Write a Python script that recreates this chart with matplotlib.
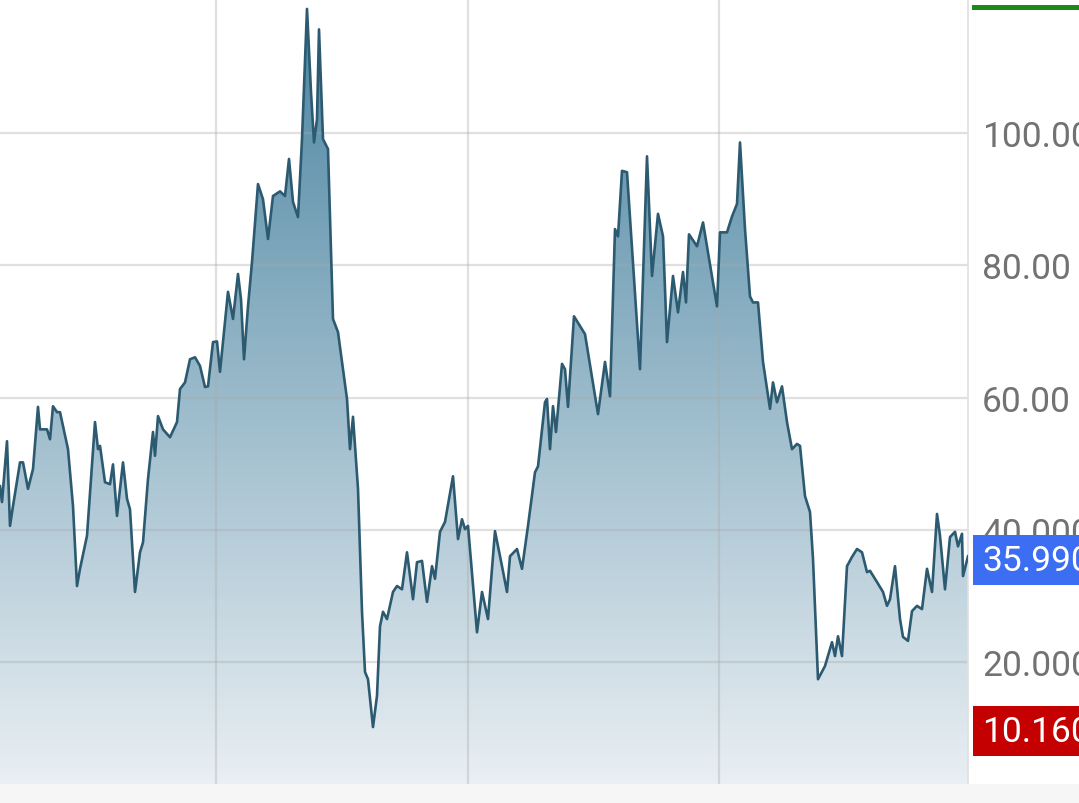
import numpy as np
import matplotlib.pyplot as plt
from matplotlib.patches import Polygon, Rectangle
from matplotlib.transforms import blended_transform_factory

plt.rcParams["font.family"] = ["Roboto", "DejaVu Sans"]

# trading day index and closing price
days = [0, 2, 7, 10, 13, 20, 23, 28, 33, 38, 40, 47, 50, 53, 57, 60, 68, 73, 77, 80,
        87, 95, 98, 100, 105, 110, 113, 117, 123, 127, 130, 135, 140, 143, 148, 153,
        155, 158, 163, 170, 177, 180, 185, 190, 195, 200, 205, 208, 213, 217, 220,
        228, 233, 238, 241, 244, 248, 252, 258, 263, 268, 273, 280, 285, 289, 293,
        298, 302, 307, 311, 314, 317, 319, 323, 328, 333, 338, 343, 347, 350, 353,
        358, 362, 365, 368, 373, 377, 380, 383, 387, 393, 397, 402, 407, 413, 417,
        422, 427, 432, 435, 440, 445, 453, 458, 462, 465, 468, 477, 482, 488, 495,
        502, 507, 510, 517, 522, 528, 535, 538, 545, 547, 550, 553, 556, 562, 565,
        568, 574, 585, 598, 605, 610, 615, 618, 622, 627, 640, 647, 652, 658, 663,
        667, 673, 678, 683, 686, 689, 697, 703, 713, 717, 720, 727, 732, 737, 740,
        745, 750, 753, 758, 763, 770, 773, 777, 782, 787, 792, 797, 800, 805, 810,
        813, 818, 825, 832, 835, 838, 842, 847, 852, 857, 862, 867, 870, 877, 883,
        887, 890, 895, 900, 903, 908, 912, 917, 922, 927, 932, 937, 940, 945, 950,
        955, 958, 962, 963, 968]
prices = [46.6, 44.2, 53.4, 40.6, 43.6, 50.2, 50.2, 46.2, 49.2, 58.6, 55.2, 55.2, 53.7,
          58.7, 57.8, 57.8, 52.2, 43.6, 31.5, 34.1, 39.1, 56.3, 52.2, 52.7, 47.2, 46.9,
          49.9, 42.1, 50.2, 44.7, 43.1, 30.6, 36.6, 38.1, 47.7, 54.8, 51.2, 57.2, 55.2,
          54.0, 56.3, 61.3, 62.3, 65.8, 66.1, 64.8, 61.6, 61.7, 68.4, 68.5, 63.9, 76.0,
          71.9, 78.7, 74.9, 65.8, 73.8, 80.5, 92.3, 90.0, 84.0, 90.5, 91.2, 90.5, 96.1,
          89.6, 87.3, 99.1, 118.8, 106.2, 98.6, 102.1, 115.7, 99.1, 97.6, 71.9, 69.9,
          64.3, 59.8, 52.2, 57.1, 46.2, 27.6, 18.5, 17.4, 10.16, 14.9, 25.4, 27.6, 26.5,
          30.6, 31.5, 31.0, 36.6, 29.5, 35.1, 35.3, 29.1, 34.5, 32.6, 39.7, 41.2, 48.1,
          38.6, 41.6, 40.1, 40.6, 24.5, 30.6, 26.5, 39.8, 34.5, 30.6, 36.0, 37.1, 34.1,
          40.6, 48.7, 49.6, 59.3, 59.8, 52.2, 58.7, 54.8, 65.1, 64.3, 58.6, 72.3, 69.6,
          57.5, 65.4, 60.2, 85.5, 84.4, 94.3, 94.1, 64.3, 96.5, 78.4, 87.8, 84.4, 68.4,
          78.4, 72.9, 79.0, 74.4, 84.7, 82.9, 86.5, 77.5, 73.8, 85.0, 85.0, 87.4, 89.3,
          98.6, 85.5, 75.3, 74.4, 74.4, 65.4, 58.3, 62.3, 59.3, 61.7, 56.3, 52.2, 53.0,
          52.7, 45.1, 42.7, 35.6, 17.4, 19.4, 23.0, 20.9, 23.9, 20.9, 34.5, 35.9, 37.1,
          36.6, 33.6, 33.8, 32.1, 30.6, 28.5, 29.5, 34.5, 26.5, 23.8, 23.2, 27.7, 28.5,
          28.0, 34.1, 30.6, 42.4, 39.1, 31.0, 38.9, 39.7, 37.5, 39.4, 33.0, 35.99]

y_ticks = [20, 40, 60, 80, 100]
y_tick_labels = ["20.000", "40.000", "60.00", "80.00", "100.00"]
month_breaks = [216, 468, 719]
last_price = 35.99
low_price = 10.16

Y_MIN, Y_MAX = 1.55, 120.3
LINE_COLOR = "#2c5a70"
TOP_COLOR = np.array([0x4a, 0x84, 0xa1]) / 255
BOTTOM_COLOR = np.array([0xe9, 0xef, 0xf3]) / 255

fig = plt.figure(figsize=(10.79, 8.04), dpi=100, facecolor="white")
fig.patches.append(Rectangle((0, 0), 1, 19 / 804, transform=fig.transFigure,
                             facecolor="#f6f6f6", edgecolor="none", zorder=0))
ax = fig.add_axes([0, 19 / 804, 968 / 1079, 785 / 804])
ax.set_xlim(0, 968)
ax.set_ylim(Y_MIN, Y_MAX)

# gradient area under the price line
t = np.linspace(0, 1, 256)[:, None]
grad = TOP_COLOR * (1 - t[..., None]) + BOTTOM_COLOR * t[..., None]
grad = np.repeat(grad, 2, axis=1)
im = ax.imshow(grad, extent=[0, 968, Y_MIN, Y_MAX], aspect="auto",
               origin="upper", zorder=1)
verts = np.column_stack([np.r_[days[0], days, days[-1]],
                         np.r_[Y_MIN, prices, Y_MIN]])
clip = Polygon(verts, closed=True, facecolor="none", edgecolor="none")
ax.add_patch(clip)
im.set_clip_path(clip)

ax.plot(days, prices, color=LINE_COLOR, linewidth=1.9, zorder=4,
        solid_joinstyle="round")

for y in y_ticks:
    ax.axhline(y, color="#a8a8a8", alpha=0.35, linewidth=1.6, zorder=2)
for x in month_breaks:
    ax.axvline(x, color="#a8a8a8", alpha=0.35, linewidth=1.6, zorder=2)

for side in ["top", "left", "bottom"]:
    ax.spines[side].set_visible(False)
ax.spines["right"].set_color("#e0e0e0")
ax.spines["right"].set_linewidth(1.2)
ax.set_xticks([])
ax.yaxis.tick_right()
ax.set_yticks(y_ticks)
ax.set_yticklabels(y_tick_labels)
ax.tick_params(axis="y", length=0, pad=10, labelsize=25.5, labelcolor="#727272")

# price tags on the right axis
tr = blended_transform_factory(ax.transAxes, ax.transData)
px = (Y_MAX - Y_MIN) / 785
for val, label, color in [(last_price, "35.990", "#3b6ef2"),
                          (low_price, "10.160", "#c40000")]:
    mid = val - 4 * px
    ax.add_patch(Rectangle((1.005, mid - 25 * px), 0.2, 50 * px, transform=tr,
                           facecolor=color, edgecolor="none", clip_on=False,
                           zorder=5))
    ax.text(1 + 14 / 968, mid, label, transform=tr, color="white",
            fontsize=25.5, va="center", ha="left", clip_on=False, zorder=6)

# high tag, mostly above the visible area
fig.patches.append(Rectangle((972 / 1079, 1 - 11 / 804), 0.2, 11 / 804,
                             transform=fig.transFigure, facecolor="#1b8a1b",
                             edgecolor="none", zorder=5))
fig.patches.append(Rectangle((972 / 1079, 1 - 6 / 804), 0.2, 6 / 804,
                             transform=fig.transFigure, facecolor="white",
                             edgecolor="none", zorder=6))

fig.savefig("out.png", dpi=100, facecolor="white")
